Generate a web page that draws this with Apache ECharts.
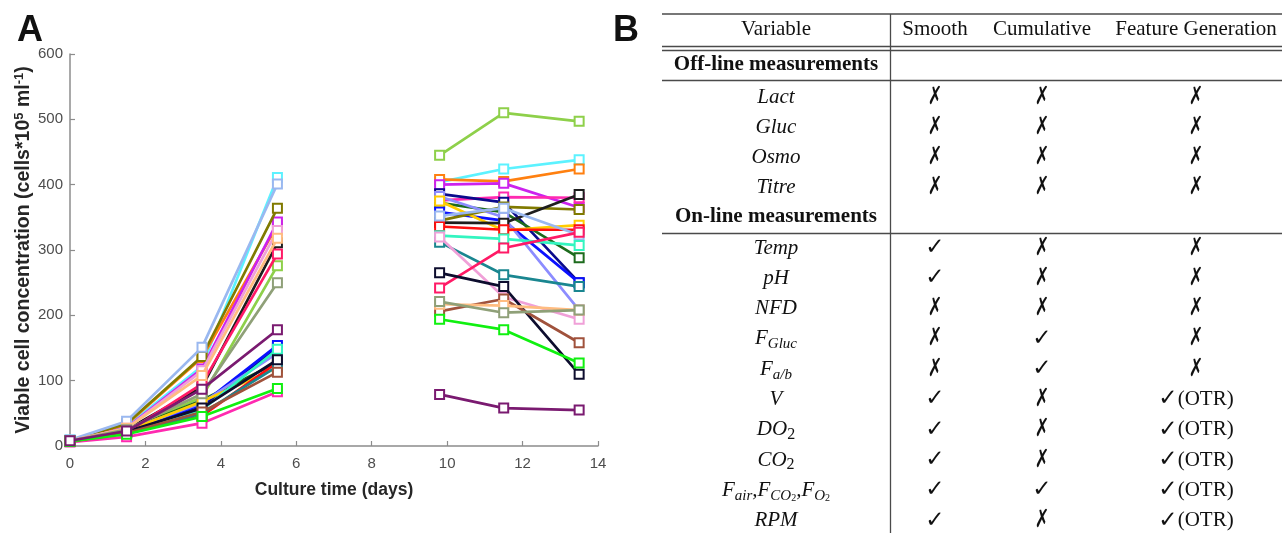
<!DOCTYPE html>
<html>
<head>
<meta charset="utf-8">
<script src="https://cdn.jsdelivr.net/npm/echarts@6/dist/echarts.min.js"></script>
<style>
  html, body { margin: 0; padding: 0; background: #fff; }
  #chart { width: 1282px; height: 533px; }
</style>
</head>
<body>
<div id="chart"></div>
<script>
// sampling days; the line breaks between 5.5 and 9.8
const days = [0, 1.5, 3.5, 5.5, 9.8, 11.5, 13.5];
const gapDay = 7.6;

const runColors = [
  '#8ed04a', '#5cf2ff', '#ff8010', '#cc22ee', '#ff2ab0', '#0a0a8c',
  '#1d6b1d', '#0a10ff', '#8c8cff', '#ffcc00', '#807a00', '#1e1e1e',
  '#ff1010', '#9ab8f0', '#33f5c0', '#1a8690', '#f0a0d8', '#ff1a66',
  '#0d0d2e', '#a0523c', '#ffbc80', '#8fa078', '#10f010', '#7a1a70'
];

// viable cell concentration per run, one value per entry of days
const runValues = [
  [8, 25, 75, 276, 445, 510, 497],
  [9, 30, 122, 411, 404, 424, 438],
  [8, 33, 135, 338, 408, 405, 424],
  [8, 28, 118, 343, 400, 402, 365],
  [6, 14, 35, 83, 376, 381, 380],
  [7, 22, 60, 150, 386, 373, 250],
  [8, 24, 70, 128, 372, 358, 288],
  [8, 22, 64, 154, 358, 345, 250],
  [8, 24, 66, 142, 382, 350, 208],
  [8, 23, 68, 120, 375, 330, 338],
  [8, 34, 137, 364, 345, 366, 362],
  [8, 25, 90, 311, 342, 341, 385],
  [7, 20, 46, 128, 336, 331, 331],
  [9, 38, 151, 401, 352, 364, 323],
  [8, 21, 55, 148, 322, 317, 307],
  [8, 20, 50, 122, 312, 262, 244],
  [8, 27, 115, 330, 320, 228, 194],
  [7, 21, 95, 294, 242, 303, 327],
  [8, 22, 58, 132, 265, 244, 110],
  [7, 20, 52, 113, 206, 225, 158],
  [8, 27, 108, 318, 217, 215, 208],
  [8, 25, 80, 250, 221, 204, 208],
  [7, 18, 45, 88, 194, 178, 127],
  [8, 23, 87, 178, 79, 58, 55]
];

// table B
const headers = ['Variable', 'Smooth', 'Cumulative', 'Feature Generation'];
const offlineVars = ['{v|Lact}', '{v|Gluc}', '{v|Osmo}', '{v|Titre}'];
const offlineFlags = [['n', 'n', 'n'], ['n', 'n', 'n'], ['n', 'n', 'n'], ['n', 'n', 'n']];
const onlineVars = [
  '{v|Temp}', '{v|pH}', '{v|NFD}', '{v|F}{s|Gluc}', '{v|F}{s|a/b}', '{v|V}',
  '{v|DO}{n|2}', '{v|CO}{n|2}',
  '{v|F}{s|air}{v|,F}{s|CO}{ss|2}{v|,F}{s|O}{ss|2}', '{v|RPM}'
];
const onlineFlags = [
  ['y', 'n', 'n'], ['y', 'n', 'n'], ['n', 'n', 'n'], ['n', 'y', 'n'], ['n', 'y', 'n'],
  ['y', 'n', 'o'], ['y', 'n', 'o'], ['y', 'n', 'o'], ['y', 'y', 'o'], ['y', 'n', 'o']
];

const serif = 'Liberation Serif';
const sans = 'Liberation Sans';

const series = runValues.map((vals, k) => {
  const data = [];
  vals.forEach((v, i) => {
    if (i === 4) data.push([gapDay, '-']);
    data.push([days[i], v]);
  });
  return {
    type: 'line',
    data: data,
    symbol: 'emptyRect',
    symbolSize: 9,
    connectNulls: false,
    lineStyle: { width: 2.7, color: runColors[k] },
    itemStyle: { color: runColors[k], borderWidth: 2.2 },
    emphasis: { disabled: true },
    z: 2 + k
  };
});

// table graphics
const colX = [776, 935, 1042, 1196];
const lineStyle = { stroke: '#4a4a4a', lineWidth: 1.3 };
const rich = {
  v: { fontFamily: serif, fontStyle: 'italic', fontSize: 21, lineHeight: 26, fill: '#111' },
  s: { fontFamily: serif, fontStyle: 'italic', fontSize: 15, lineHeight: 14, verticalAlign: 'bottom', fill: '#111' },
  ss: { fontFamily: serif, fontSize: 10, lineHeight: 10, verticalAlign: 'bottom', fill: '#111' },
  n: { fontFamily: serif, fontSize: 16, lineHeight: 15, verticalAlign: 'bottom', fill: '#111' },
  m: { fontFamily: 'DejaVu Sans', fontSize: 23, lineHeight: 26, fill: '#111' },
  t: { fontFamily: serif, fontSize: 21, lineHeight: 26, fill: '#111' }
};

const graphic = [];
function addText(x, y, text, extra, scaleX) {
  graphic.push({
    type: 'text', x: x, y: y, scaleX: scaleX || 1, silent: true,
    style: Object.assign({ text: text, align: 'center', verticalAlign: 'middle', rich: rich, fill: '#111' }, extra || {})
  });
}
function addLine(x1, y1, x2, y2) {
  graphic.push({ type: 'line', silent: true, shape: { x1, y1, x2, y2 }, style: lineStyle });
}
function addFlag(x, y, f) {
  if (f === 'n') addText(x, y, '✗', { font: '25px DejaVu Sans' }, 0.7);
  else if (f === 'y') addText(x, y, '✓', { font: '23px DejaVu Sans' });
  else addText(x, y, '{m|✓}{t|(OTR)}');
}

addText(30, 31, 'A', { font: 'bold 36px ' + sans });
addText(626, 31, 'B', { font: 'bold 36px ' + sans });

addLine(662, 14, 1282, 14);
addLine(662, 46.5, 1282, 46.5);
addLine(662, 50.5, 1282, 50.5);
addLine(662, 80.5, 1282, 80.5);
addLine(662, 233.5, 1282, 233.5);
addLine(890.5, 14, 890.5, 533);

headers.forEach((h, i) => addText(colX[i], 29, h, { font: '21px ' + serif }));
addText(colX[0], 65, 'Off-line measurements', { font: 'bold 21px ' + serif });
addText(colX[0], 217, 'On-line measurements', { font: 'bold 21px ' + serif });

offlineVars.forEach((v, r) => {
  const y = 97 + r * 30;
  addText(colX[0], y, v);
  offlineFlags[r].forEach((f, c) => addFlag(colX[c + 1], y, f));
});
onlineVars.forEach((v, r) => {
  const y = 248 + r * 30.3;
  addText(colX[0], y, v);
  onlineFlags[r].forEach((f, c) => addFlag(colX[c + 1], y, f));
});

const chart = echarts.init(document.getElementById('chart'));
chart.setOption({
  animation: false,
  backgroundColor: '#fff',
  grid: { left: 70, right: 684, top: 54, bottom: 87 },
  xAxis: {
    type: 'value', min: 0, max: 14, interval: 2,
    name: 'Culture time (days)', nameLocation: 'middle', nameGap: 35,
    nameTextStyle: { fontFamily: sans, fontWeight: 'bold', fontSize: 17.5, color: '#262626' },
    axisLine: { lineStyle: { color: '#8c8c8c', width: 1.5 } },
    axisTick: { inside: true, length: 5, lineStyle: { color: '#8c8c8c', width: 1.2 } },
    axisLabel: { fontFamily: sans, fontSize: 15, color: '#4d4d4d', margin: 10 },
    splitLine: { show: false }
  },
  yAxis: {
    type: 'value', min: 0, max: 600, interval: 100,
    name: '{a|Viable cell concentration (cells*10}{p|5}{a| ml}{p|-1}{a|)}',
    nameLocation: 'middle', nameGap: 35,
    nameTextStyle: {
      rich: {
        a: { fontFamily: sans, fontWeight: 'bold', fontSize: 19.5, lineHeight: 22, color: '#262626' },
        p: { fontFamily: sans, fontWeight: 'bold', fontSize: 13, lineHeight: 12, verticalAlign: 'top', color: '#262626' }
      }
    },
    axisLine: { show: true, lineStyle: { color: '#8c8c8c', width: 1.5 } },
    axisTick: { show: true, inside: true, length: 5, lineStyle: { color: '#8c8c8c', width: 1.2 } },
    axisLabel: { fontFamily: sans, fontSize: 15, color: '#4d4d4d', margin: 7 },
    splitLine: { show: false }
  },
  series: series,
  graphic: graphic
});
</script>
</body>
</html>
